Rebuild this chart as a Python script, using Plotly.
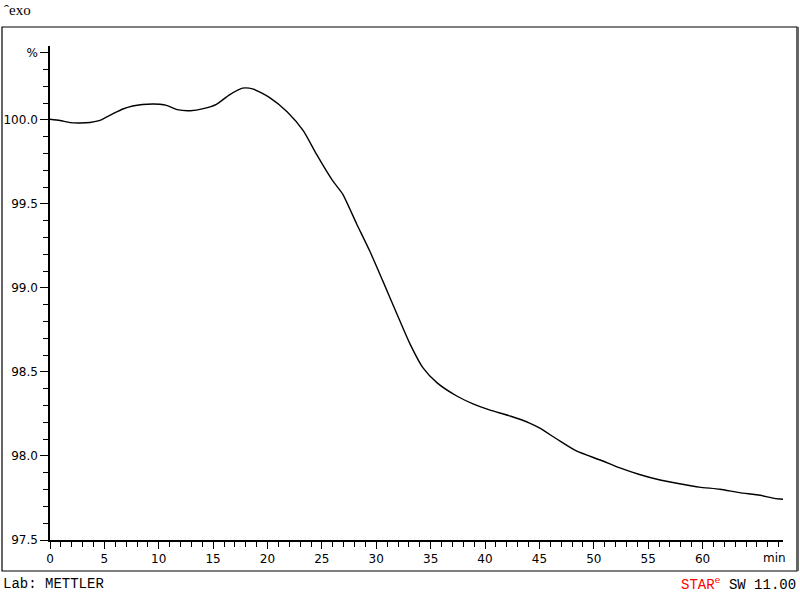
import plotly.graph_objects as go

# TGA curve
time_min = [0, 0.92, 1.84, 2.76, 3.68, 4.6, 5.8, 6.7, 7.6, 8.5, 9.5, 10.1,
            10.7, 11.7, 12.9, 14.1, 15.3, 16.5, 17.7, 18.7, 20.2, 21.8, 23.3,
            24.5, 26.0, 26.9, 28.2, 29.4, 30.6, 31.9, 33.1, 34.3, 35.6, 37.4,
            38.9, 40.4, 42.3, 44.1, 45.0, 46.6, 48.4, 50.6, 52.4, 54.2, 56.1,
            57.9, 59.7, 61.6, 63.4, 65.3, 66.6, 67.55]
mass_pct = [100.004, 99.997, 99.984, 99.982, 99.985, 99.997, 100.037, 100.065,
            100.083, 100.092, 100.095, 100.093, 100.087, 100.061, 100.055,
            100.067, 100.093, 100.149, 100.189, 100.183, 100.133, 100.049,
            99.935, 99.796, 99.637, 99.560, 99.381, 99.220, 99.042, 98.845,
            98.667, 98.524, 98.435, 98.357, 98.310, 98.274, 98.238, 98.196,
            98.167, 98.101, 98.030, 97.976, 97.929, 97.890, 97.857, 97.835,
            97.815, 97.802, 97.782, 97.766, 97.748, 97.742]

ytick_vals = [97.5, 98.0, 98.5, 99.0, 99.5, 100.0, 100.4]
ytick_text = ['97.5', '98.0', '98.5', '99.0', '99.5', '100.0', '%']
xtick_vals = [0, 5, 10, 15, 20, 25, 30, 35, 40, 45, 50, 55, 60]

# plot area in pixels
L, R, T, B = 50, 783, 46, 540
W, H = 800, 600


def px(x):
    return (x - L) / (R - L)


def py(y):
    return (B - y) / (B - T)


fig = go.Figure()
fig.add_trace(go.Scatter(
    x=time_min, y=mass_pct,
    mode='lines',
    line={'color': 'black', 'width': 1.4, 'shape': 'spline',
          'smoothing': 0.6},
    showlegend=False))

axis_font = dict(family='DejaVu Sans', size=12, color='black')
mono = dict(family='Liberation Mono', size=14, color='black')

fig.update_layout(
    width=W, height=H,
    margin=dict(l=L, r=W - R, t=T, b=H - B, autoexpand=False),
    paper_bgcolor='white', plot_bgcolor='white',
    xaxis=dict(
        range=[0, 67.4], showgrid=False, zeroline=False, automargin=False,
        showline=True, linecolor='black', linewidth=1.5,
        tickmode='array', tickvals=xtick_vals,
        ticks='outside', ticklen=7, tickwidth=1.2, tickcolor='black',
        minor=dict(dtick=1, ticks='outside', ticklen=5,
                   tickwidth=1, tickcolor='black'),
        tickfont=axis_font),
    yaxis=dict(
        range=[97.5, 100.44], showgrid=False, zeroline=False,
        automargin=False,
        showline=True, linecolor='black', linewidth=1.5,
        tickmode='array', tickvals=ytick_vals, ticktext=ytick_text,
        ticks='outside', ticklen=8, tickwidth=1.2, tickcolor='black',
        minor=dict(tickmode='linear', tick0=97.5, dtick=0.1,
                   ticks='outside', ticklen=5, tickwidth=1,
                   tickcolor='black'),
        tickfont=axis_font),
    shapes=[
        dict(type='rect', xref='paper', yref='paper',
             x0=px(2), x1=px(797), y0=py(571), y1=py(27),
             line=dict(color='black', width=1.2)),
        dict(type='line', xref='paper', yref='paper',
             x0=px(798), x1=px(798), y0=py(571), y1=py(27),
             line=dict(color='#666666', width=2)),
    ],
    annotations=[
        dict(text='min', x=66.6, xref='x', y=py(558), yref='paper',
             showarrow=False, font=axis_font,
             xanchor='center', yanchor='middle'),
        dict(text='ˆexo', x=px(2), xref='paper', y=py(10), yref='paper',
             showarrow=False, xanchor='left', yanchor='middle',
             font=dict(family='Liberation Serif', size=15, color='black')),
        dict(text='Lab: METTLER', x=px(1), xref='paper', y=py(584),
             yref='paper', showarrow=False, xanchor='left',
             yanchor='middle', font=mono),
        dict(text='<span style="color:red">STAR<sup>e</sup></span>'
                  ' SW 11.00',
             x=px(798), xref='paper', y=py(584), yref='paper',
             showarrow=False, xanchor='right', yanchor='middle',
             font=mono),
    ],
)

# page body has an 8px default margin; drop it so the figure sits at 0,0
fig.write_html("out.html", config={'displayModeBar': False},
               post_script="document.body.style.margin='0';")
